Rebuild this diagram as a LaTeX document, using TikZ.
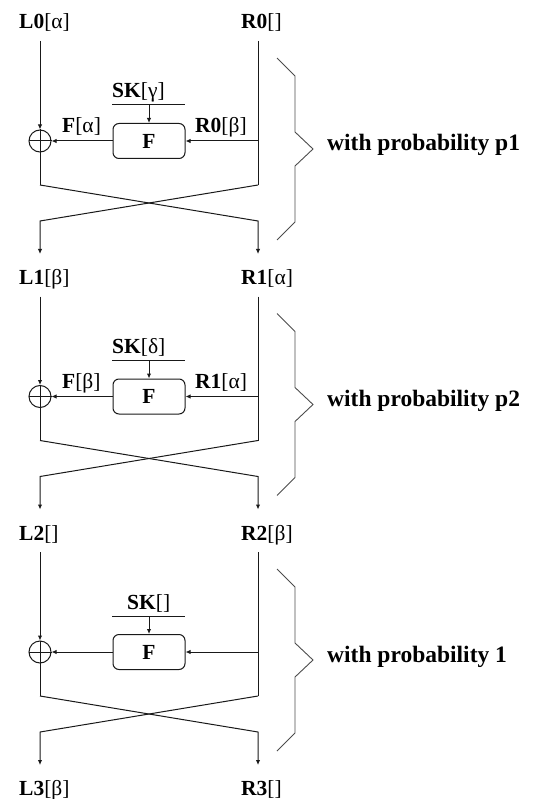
\documentclass[tikz,border=0pt]{standalone}
\usepackage{fontspec}
\setmainfont{Liberation Serif}
\usetikzlibrary{arrows.meta}
\tikzset{
  wire/.style={draw=black!90, line width=1pt},
  tip/.style={-{Latex[length=5pt,width=4.5pt]}},
  lbl/.style={font=\fontsize{21.5}{25}\selectfont, inner sep=0pt, anchor=base west},
  fbox/.style={draw=black!90, line width=1pt, rounded corners=6pt,
    minimum width=72pt, minimum height=35pt, inner sep=0pt,
    font=\fontsize{21.5}{25}\selectfont\bfseries},
  xorc/.style={draw=black!90, line width=1pt, circle, minimum size=22pt, inner sep=0pt},
  brace/.style={draw=black!70, line width=0.9pt},
  prob/.style={font=\fontsize{23.5}{28}\selectfont\bfseries, inner sep=0pt, anchor=base west}
}
\begin{document}
\begin{tikzpicture}[x=1pt,y=-1pt]
\useasboundingbox (0,0) rectangle (534,799);
\foreach \k/\lt/\rt/\sk/\skx/\fl/\fr/\pr in {
  0/{\textbf{L0}[α]}/{\textbf{R0}[]}/{\textbf{SK}[γ]}/112/{\textbf{F}[α]}/{\textbf{R0}[β]}/p1,
  1/{\textbf{L1}[β]}/{\textbf{R1}[α]}/{\textbf{SK}[δ]}/112/{\textbf{F}[β]}/{\textbf{R1}[α]}/p2,
  2/{\textbf{L2}[]}/{\textbf{R2}[β]}/{\textbf{SK}[]}/127/{}/{}/1}
{
  \pgfmathsetmacro\c{141+255.5*\k}
  % half-block labels
  \node[lbl] (L\k) at (19,\c-112) {\lt};
  \node[lbl] (R\k) at (241,\c-112) {\rt};
  % wire end points
  \coordinate (Lt\k) at (40,\c-100);
  \coordinate (Rt\k) at (258,\c-100);
  \coordinate (Rm\k) at (258,\c);
  \coordinate (Lx\k) at (40,\c+44);
  \coordinate (Rx\k) at (258,\c+44);
  \coordinate (Lb\k) at (40,\c+80);
  \coordinate (Rb\k) at (258,\c+80);
  \coordinate (Le\k) at (40,\c+113);
  \coordinate (Re\k) at (258,\c+113);
  % xor and round function
  \node[xorc] (X\k) at (40,\c) {};
  \draw[wire] (X\k.north) -- (X\k.south);
  \draw[wire] (X\k.west) -- (X\k.east);
  \node[fbox] (F\k) at (149,\c) {F};
  % subkey bar
  \coordinate (Bl\k) at (112,\c-36);
  \coordinate (Br\k) at (185,\c-36);
  \coordinate (Bm\k) at (149,\c-36);
  \draw[wire] (Bl\k) -- (Br\k);
  \draw[wire,tip] (Bm\k) -- (F\k.north);
  \node[lbl] (SK\k) at (\skx,\c-43) {\sk};
  % data flow
  \draw[wire,tip] (Lt\k) -- (X\k.north);
  \draw[wire] (Rt\k) -- (Rx\k);
  \draw[wire,tip] (Rm\k) -- (F\k.east);
  \draw[wire,tip] (F\k.west) -- (X\k.east);
  \draw[wire] (X\k.south) -- (Lx\k);
  \draw[wire,tip] (Lx\k) -- (Rb\k) -- (Re\k);
  \draw[wire,tip] (Rx\k) -- (Lb\k) -- (Le\k);
  \node[lbl] (FL\k) at (62,\c-8) {\fl};
  \node[lbl] (FR\k) at (195,\c-8) {\fr};
  % brace and probability
  \draw[brace] (277,\c-83) -- (295,\c-65) -- (295,\c-9) -- (313,\c+8)
    -- (295,\c+25) -- (295,\c+81) -- (277,\c+99);
  \node[prob] (P\k) at (327,\c+10) {with probability \pr};
}
\node[lbl] (L3) at (19,795) {\textbf{L3}[β]};
\node[lbl] (R3) at (241,795) {\textbf{R3}[]};
\end{tikzpicture}
\end{document}
